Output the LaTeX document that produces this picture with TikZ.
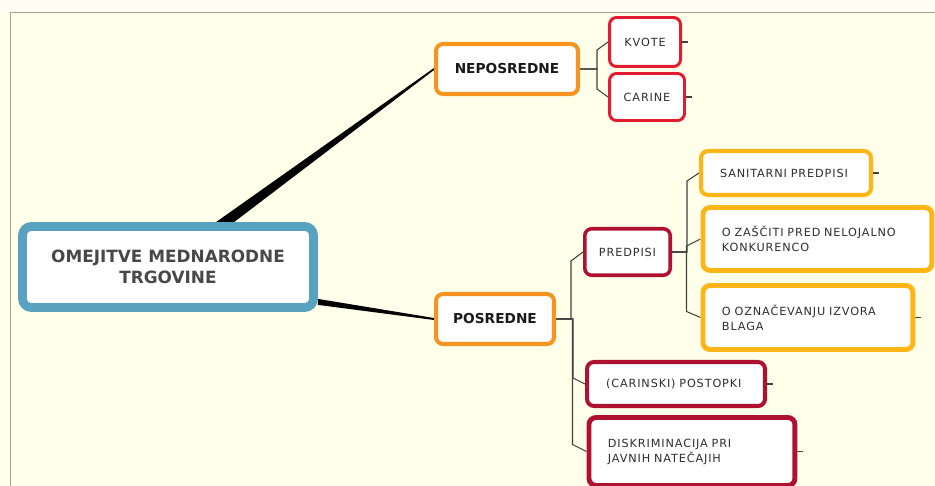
\documentclass[tikz,border=0pt]{standalone}
\usepackage{fontspec}
\usetikzlibrary{calc,backgrounds}
\newfontfamily\mapfont[LetterSpace=7.8]{DejaVu Sans}
\newfontfamily\headfont{DejaVu Sans}
\definecolor{paper}{RGB}{255,255,234}
\definecolor{paperTop}{RGB}{253,253,243}
\definecolor{frameGray}{RGB}{160,160,150}
\definecolor{rootBlue}{RGB}{88,162,192}
\definecolor{branchOrange}{RGB}{247,148,32}
\definecolor{leafRed}{RGB}{226,28,46}
\definecolor{leafWine}{RGB}{174,18,48}
\definecolor{leafGold}{RGB}{253,182,22}
\definecolor{inkGray}{RGB}{72,72,72}
\tikzset{
  box/.style={fill=white, inner sep=0pt, rounded corners=4pt, text=black!82},
  rootbox/.style={box, draw=rootBlue, line width=5pt, rounded corners=5pt, align=center,
    text=inkGray, font=\headfont\bfseries\fontsize{9.6}{12}\selectfont},
  branchbox/.style={box, draw=branchOrange, line width=2.3pt, text=black!90,
    font=\headfont\bfseries\fontsize{7.8}{9}\selectfont},
  redbox/.style={box, draw=leafRed, line width=1.7pt, font=\mapfont\fontsize{6.4}{8.5}\selectfont},
  winebox/.style={box, draw=leafWine, line width=2.3pt, font=\mapfont\fontsize{6.4}{8.5}\selectfont},
  goldbox/.style={box, draw=leafGold, line width=2.3pt, font=\mapfont\fontsize{6.4}{8.5}\selectfont},
  leaf/.style={anchor=west, align=left, inner xsep=0.38cm, text width=#1},
  trunk/.style={fill=black},
  twig/.style={draw=black!75, line width=0.6pt},
}

\begin{document}
\begin{tikzpicture}[x=0.02cm, y=-0.02cm]
  \useasboundingbox (0,0) rectangle (935,486);
  \clip (0,0) rectangle (935,486);

  % centre and first level
  \node[rootbox, minimum width=5.82cm, minimum height=1.62cm] (root) at (168,267)
    {OMEJITVE MEDNARODNE\\TRGOVINE};
  \node[branchbox, minimum width=2.84cm, minimum height=1.0cm] (nep) at (507,69) {NEPOSREDNE};
  \node[branchbox, minimum width=2.36cm, minimum height=1.0cm] (pos) at (495,319) {POSREDNE};

  % neposredne
  \node[redbox, minimum width=1.42cm, minimum height=0.98cm] (kvote) at (645,42) {KVOTE};
  \node[redbox, minimum width=1.5cm, minimum height=0.94cm] (carine) at (647,97) {CARINE};

  % posredne
  \node[winebox, line width=2pt, minimum width=1.71cm, minimum height=0.93cm] (predpisi) at (627.5,252) {PREDPISI};
  \node[winebox, leaf=2.8cm, minimum height=0.88cm] (postopki) at (585,384) {(CARINSKI) POSTOPKI};
  \node[winebox, line width=2.8pt, leaf=3.36cm, minimum height=1.36cm] (natecaji) at (586.5,451.5)
    {DISKRIMINACIJA PRI\\JAVNIH NATEČAJIH};

  % predpisi
  \node[goldbox, leaf=2.64cm, minimum height=0.88cm] (sanitarni) at (699,173) {SANITARNI PREDPISI};
  \node[goldbox, line width=2.8pt, leaf=3.82cm, minimum height=1.26cm] (zascita) at (700.5,239)
    {O ZAŠČITI PRED NELOJALNO\\KONKURENCO};
  \node[goldbox, line width=2.8pt, leaf=3.44cm, minimum height=1.28cm] (izvor) at (700.5,317.5)
    {O OZNAČEVANJU IZVORA\\BLAGA};

  \begin{scope}[on background layer]
    \fill[paper] (0,0) rectangle (935,486);
    \fill[paperTop] (0,0) rectangle (935,12);
    \draw[frameGray, line width=0.6pt] (935,12.5) -- (10.5,12.5) -- (10.5,486);

    % thick stems
    \fill[trunk] ($(root.north)+(48,0)$) -- ($(root.north)+(66,0)$)
      -- ($(nep.west)+(0,1)$) -- ($(nep.west)+(0,-1)$) -- cycle;
    \fill[trunk] ($(root.south east)+(0,-13)$) -- ($(root.south east)+(0,-7)$)
      -- ($(pos.west)+(0,1)$) -- ($(pos.west)+(0,-1)$) -- cycle;

    % brackets
    \draw[twig] (kvote.west) -- ++(-11,8) |- (nep.east);
    \draw[twig] (carine.west) -- ++(-11,-8) |- (nep.east);
    \draw[twig] (predpisi.west) -- ++(-12,9) |- (pos.east);
    \draw[twig] (postopki.west) -- ++(-12,-6) |- (pos.east);
    \draw[twig] (natecaji.west) -- ++(-14,-7) |- (pos.east);
    \draw[twig] (sanitarni.west) -- ++(-12,8) |- (predpisi.east);
    \draw[twig] (zascita.west) -- ++(-14,7) |- (predpisi.east);
    \draw[twig] (izvor.west) -- ++(-14,-6) |- (predpisi.east);

    % loose ends
    \foreach \n in {kvote,carine,sanitarni,izvor,postopki,natecaji}
      \draw[twig] (\n.east) -- ++(6,0);
  \end{scope}
\end{tikzpicture}
\end{document}
